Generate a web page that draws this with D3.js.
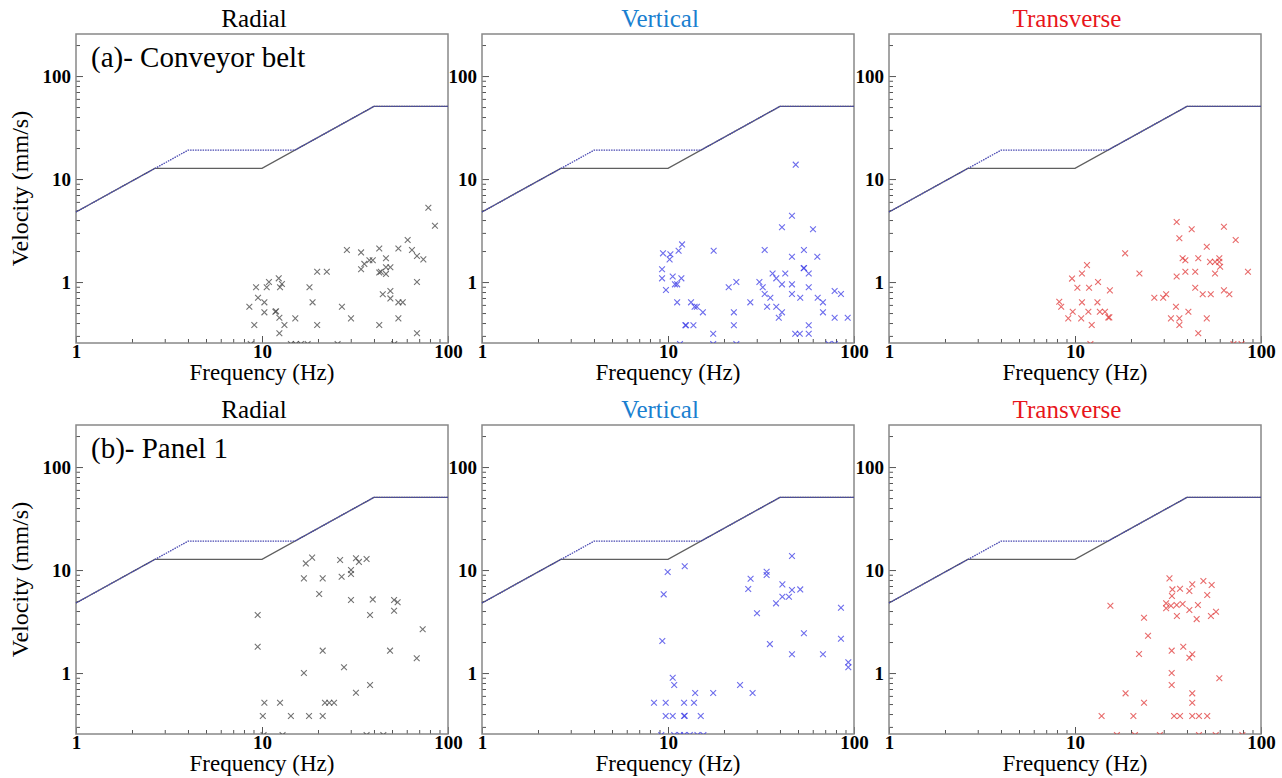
<!DOCTYPE html>
<html>
<head>
<meta charset="utf-8">
<script src="https://cdn.jsdelivr.net/npm/d3@7"></script>
<style>
  body { margin: 0; background: #fff; }
  svg text { font-family: "Liberation Serif", "Times New Roman", serif; }
</style>
</head>
<body>
<svg id="chart" width="1282" height="778"></svg>
<script>
// peak particle velocity records, [frequency Hz, velocity mm/s]
const beltRadial = [[78.4,5.26],[85.1,3.52],[60.7,2.56],[28.6,2.05],[34.1,1.94],[42.7,2.12],[54.1,2.12],[64.0,2.05],
  [68.1,1.79],[73.7,1.66],[46.4,1.70],[37.8,1.63],[39.4,1.63],[35.5,1.50],[34.1,1.33],[46.4,1.39],[49.0,1.39],
  [42.7,1.24],[43.5,1.26],[46.4,1.20],[19.8,1.26],[22.3,1.26],[68.1,1.0],[18.0,0.89],[18.7,0.635],[26.9,0.575],
  [30.1,0.444],[19.8,0.383],[42.7,0.383],[54.1,0.444],[44.6,0.76],[49.0,0.82],[49.0,0.694],[54.1,0.635],[57.1,0.635],
  [68.1,0.318],[8.55,0.575],[9.29,0.89],[10.6,0.89],[10.9,1.0],[12.3,1.086],[12.8,0.956],[12.5,0.89],[9.52,0.705],
  [10.3,0.635],[10.3,0.508],[11.8,0.515],[11.9,0.52],[12.4,0.45],[9.09,0.383],[13.2,0.383],[15.1,0.444],[12.4,0.318],
  [8.7,0.25],[14.3,0.25],[15.2,0.25],[16.2,0.25],[17.6,0.25],[25.5,0.25],[51.4,0.25]];

const beltVertical = [[48.6,13.8],[46.4,4.40],[41.0,3.40],[60.2,3.25],[11.9,2.32],[9.4,1.90],[10.3,1.86],[11.4,2.01],
  [10.2,1.66],[17.6,2.01],[33.1,2.05],[53.8,2.05],[46.4,1.76],[63.5,1.76],[9.29,1.33],[9.29,1.086],[10.6,1.13],
  [11.8,1.086],[10.9,0.95],[11.2,0.95],[9.75,0.836],[53.6,1.36],[53.9,1.37],[57.1,1.21],[36.5,1.21],[42.7,1.21],
  [38.2,1.086],[31.0,1.0],[32.3,0.89],[23.3,1.0],[21.2,0.89],[41.0,0.95],[46.4,0.95],[46.4,0.765],[51.4,0.705],
  [57.1,0.89],[33.1,0.765],[35.5,0.705],[63.8,0.705],[68.1,0.635],[78.7,0.82],[85.1,0.765],[27.7,0.635],[34.1,0.575],
  [38.2,0.575],[41.0,0.508],[39.4,0.45],[68.1,0.508],[78.7,0.45],[92.5,0.45],[22.6,0.508],[22.6,0.38],[12.4,0.38],
  [12.5,0.38],[13.7,0.38],[11.2,0.635],[13.3,0.635],[13.9,0.575],[14.3,0.575],[15.4,0.508],[17.5,0.315],[57.1,0.38],
  [48.3,0.315],[51.1,0.315],[57.1,0.315],[11.6,0.25],[17.5,0.25],[23.3,0.25],[73.1,0.25],[78.9,0.25]];

const beltTransverse = [[35.2,3.83],[42.4,3.25],[63.2,3.44],[36.4,2.66],[73.1,2.56],[51.1,2.20],[18.6,1.90],[37.9,1.70],
  [39.2,1.63],[46.0,1.70],[53.2,1.57],[56.6,1.57],[59.7,1.57],[59.7,1.70],[60.3,1.41],[85.1,1.26],[39.2,1.26],
  [44.3,1.26],[56.6,1.21],[35.2,1.13],[22.2,1.21],[11.6,1.46],[10.9,1.21],[9.64,1.08],[13.3,1.0],[10.3,0.88],
  [11.9,0.88],[15.4,0.83],[44.3,0.88],[48.6,0.76],[53.7,0.76],[63.2,0.83],[67.6,0.76],[26.7,0.705],[29.8,0.705],
  [30.9,0.76],[8.23,0.644],[8.43,0.575],[9.72,0.515],[9.2,0.444],[10.9,0.635],[13.2,0.635],[11.8,0.515],[13.6,0.515],
  [14.5,0.515],[10.8,0.444],[15.1,0.454],[15.3,0.454],[12.3,0.383],[34.9,0.575],[40.7,0.515],[32.8,0.444],
  [36.4,0.444],[36.4,0.383],[51.1,0.444],[46.0,0.318],[12.1,0.25],[71.1,0.25],[78.6,0.25]];

const panelRadial = [[18.6,13.2],[17.2,11.6],[26.3,12.5],[32.0,13.0],[33.2,12.0],[36.5,12.8],[30.1,10.0],[30.1,9.15],
  [26.8,8.61],[16.8,8.30],[21.2,8.30],[20.3,5.85],[30.1,5.11],[39.4,5.19],[51.3,5.11],[53.6,4.86],[51.3,4.03],
  [38.1,3.66],[9.48,3.66],[73.1,2.66],[9.48,1.80],[21.2,1.65],[48.8,1.65],[67.9,1.39],[27.6,1.14],[16.8,1.0],
  [38.1,0.765],[32.0,0.644],[10.3,0.515],[12.5,0.515],[21.8,0.515],[23.0,0.515],[24.4,0.515],[10.1,0.383],
  [14.3,0.383],[17.9,0.383],[21.2,0.383],[10.2,0.25],[12.9,0.25],[36.5,0.25],[44.9,0.25]];

const panelVertical = [[46.4,13.7],[12.3,10.9],[9.96,9.56],[33.9,9.62],[33.9,8.94],[27.8,8.23],[27.0,6.54],[41.2,7.26],
  [46.4,6.39],[51.4,6.49],[41.2,5.51],[44.7,5.51],[38.1,4.75],[85.1,4.31],[9.48,5.81],[30.1,3.80],[53.8,2.43],
  [85.1,2.15],[9.32,2.05],[35.3,1.91],[46.4,1.52],[68.1,1.52],[93.2,1.27],[93.2,1.14],[10.6,0.90],[10.8,0.765],
  [24.4,0.765],[28.5,0.64],[14.0,0.64],[17.5,0.64],[8.41,0.515],[9.72,0.515],[12.2,0.515],[13.8,0.515],[9.72,0.383],
  [10.6,0.383],[12.2,0.383],[12.3,0.385],[15.0,0.383],[9.2,0.25],[10.8,0.25],[11.6,0.25],[12.2,0.25],[13.1,0.25],
  [14.4,0.25],[15.5,0.25]];

const panelTransverse = [[32.2,8.30],[49.0,7.82],[42.7,7.26],[54.3,7.15],[33.4,6.49],[36.7,6.59],[41.2,6.25],[33.2,5.59],
  [51.4,5.72],[15.5,4.50],[30.9,4.75],[30.9,4.25],[32.8,4.50],[35.2,4.57],[37.9,4.68],[45.8,4.57],[41.2,4.09],
  [57.3,3.94],[53.8,3.58],[35.3,3.58],[45.1,3.34],[23.5,3.44],[24.7,2.30],[22.1,1.53],[33.1,1.65],[38.2,1.80],
  [41.2,1.41],[42.7,1.52],[33.1,1.0],[33.1,0.765],[59.7,0.89],[18.7,0.635],[42.7,0.635],[42.7,0.515],[23.5,0.515],
  [13.9,0.383],[20.6,0.383],[34.1,0.383],[36.7,0.383],[42.7,0.383],[46.4,0.383],[51.4,0.383],[16.8,0.25],[21.0,0.25],
  [28.6,0.25],[46.4,0.25],[57.1,0.25],[79.4,0.25]];

// damage criterion curves
const lowerLimitF = [1, 2.65, 10, 40, 100];
const lowerLimitV = [4.79, 12.7, 12.7, 50.8, 50.8];
const upperLimitF = [1, 4, 15, 40, 100];
const upperLimitV = [4.79, 19.05, 19.05, 50.8, 50.8];

const componentNames = ['Radial', 'Vertical', 'Transverse'];
const siteNames = ['(a)- Conveyor belt', '(b)- Panel 1'];
const majorTicks = [1, 10, 100];

const records = [[beltRadial, beltVertical, beltTransverse],
                 [panelRadial, panelVertical, panelTransverse]];

const titleColors = ['#000', '#1a7fd0', '#e8151b'];
const markColors = ['#444', '#3c3ce6', '#e03a3a'];

const svg = d3.select('#chart');
const colLeft = [76, 482, 889], rowTop = [34, 425];
const pw = 372, ph = 309;

const x = d3.scaleLog().domain([1, 100]).range([0, pw]);
const y = d3.scaleLog().domain([0.256, 256]).range([ph, 0]);

const minorX = x.ticks().filter(d => !majorTicks.includes(d));
const minorY = y.ticks().filter(d => !majorTicks.includes(d));

const line = d3.line().x(d => x(d[0])).y(d => y(d[1]));
const lowerPts = d3.zip(lowerLimitF, lowerLimitV);
const upperPts = d3.zip(upperLimitF, upperLimitV);
const cross = 'M-2.9,-2.9L2.9,2.9M-2.9,2.9L2.9,-2.9';

function styleAxis(g) {
  g.select('.domain').remove();
  g.selectAll('line').attr('stroke', '#555').attr('stroke-width', 1);
  g.selectAll('text').attr('font-size', 19).attr('font-weight', 'bold').attr('fill', '#000')
   .attr('font-family', '"Liberation Serif", serif');
}

records.forEach((row, r) => {
  row.forEach((data, c) => {
    const g = svg.append('g').attr('transform', `translate(${colLeft[c]},${rowTop[r]})`);
    const clipId = `clip-${r}-${c}`;
    g.append('clipPath').attr('id', clipId)
      .append('rect').attr('width', pw).attr('height', ph);

    // axes with inward ticks
    g.append('g').attr('transform', `translate(0,${ph})`)
      .call(d3.axisBottom(x).tickValues(minorX).tickSize(-4).tickFormat(''))
      .call(styleAxis);
    g.append('g').attr('transform', `translate(0,${ph})`)
      .call(d3.axisBottom(x).tickValues(majorTicks).tickSize(-7).tickPadding(1).tickFormat(d3.format('d')))
      .call(styleAxis);
    g.append('g')
      .call(d3.axisLeft(y).tickValues(minorY).tickSize(-4).tickFormat(''))
      .call(styleAxis);
    g.append('g')
      .call(d3.axisLeft(y).tickValues(majorTicks).tickSize(-7).tickPadding(5).tickFormat(d3.format('d')))
      .call(styleAxis);

    g.append('rect').attr('width', pw).attr('height', ph)
      .attr('fill', 'none').attr('stroke', '#888').attr('stroke-width', 1.5);

    // criterion lines
    g.append('path').datum(lowerPts).attr('d', line)
      .attr('fill', 'none').attr('stroke', '#5f5f5f').attr('stroke-width', 1.3);
    g.append('path').datum(upperPts).attr('d', line)
      .attr('fill', 'none').attr('stroke', '#4646b0').attr('stroke-width', 1.3)
      .attr('stroke-dasharray', '1.5,1');

    g.append('g').attr('clip-path', `url(#${clipId})`)
      .selectAll('path').data(data).join('path')
      .attr('transform', d => `translate(${x(d[0])},${y(d[1])})`)
      .attr('d', cross)
      .attr('fill', 'none')
      .attr('stroke', markColors[c])
      .attr('stroke-opacity', 0.75)
      .attr('stroke-width', 1.1);

    g.append('text').attr('x', pw / 2 - 8).attr('y', -7)
      .attr('text-anchor', 'middle').attr('font-size', 25)
      .attr('fill', titleColors[c]).text(componentNames[c]);

    g.append('text').attr('x', pw / 2).attr('y', ph + 37)
      .attr('text-anchor', 'middle').attr('font-size', 23)
      .text('Frequency (Hz)');

    if (c === 0) {
      g.append('text')
        .attr('transform', `translate(-48,${ph / 2}) rotate(-90)`)
        .attr('text-anchor', 'middle').attr('font-size', 24)
        .text('Velocity (mm/s)');
      g.append('text').attr('x', 15).attr('y', 33)
        .attr('font-size', 29).text(siteNames[r]);
    }
  });
});
</script>
</body>
</html>
